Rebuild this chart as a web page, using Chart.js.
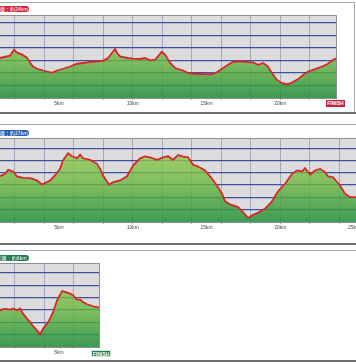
<!DOCTYPE html>
<html><head><meta charset="utf-8">
<script src="https://cdn.jsdelivr.net/npm/chart.js@4/dist/chart.umd.min.js"></script>
<style>
html,body{margin:0;padding:0;width:356px;height:364px;overflow:hidden;background:#fff;position:relative}
canvas{position:absolute}
.ln{position:absolute}
.tag{position:absolute;height:6px;border-radius:3px;color:#fff;font:5px/6px "Noto Sans CJK JP",sans-serif;white-space:nowrap;text-align:right;padding-right:2px;box-sizing:border-box}
.fin{position:absolute;color:#fff;font:bold 5px/6px "Liberation Sans",sans-serif;text-align:center;box-sizing:border-box}
</style></head>
<body>
<div class="ln" style="left:0;top:2px;width:355px;height:1px;background:#a8a8a8"></div>
<div class="ln" style="left:354px;top:2px;width:1px;height:111px;background:#a8a8a8"></div>
<div class="ln" style="left:0;top:112px;width:356px;height:2px;background:#707070"></div>
<div class="ln" style="left:0;top:124px;width:356px;height:1px;background:#a8a8a8"></div>
<div class="ln" style="left:0;top:243px;width:356px;height:2px;background:#707070"></div>
<div class="ln" style="left:0;top:250px;width:356px;height:1px;background:#a8a8a8"></div>
<div class="ln" style="left:0;top:360px;width:356px;height:2px;background:#707070"></div>

<canvas id="c1" width="337" height="95" style="left:0;top:15px"></canvas>
<canvas id="c2" width="400" height="96" style="left:0;top:138px"></canvas>
<canvas id="c3" width="100" height="96" style="left:0;top:263px"></canvas>

<div class="tag" style="left:-5px;top:6px;width:34px;background:#d6283a">距離：約24km</div>
<div class="tag" style="left:-5px;top:130px;width:34px;background:#2a62b5">距離：約27km</div>
<div class="tag" style="left:-5px;top:255px;width:34px;background:#1f7a4c">距離：約8km</div>
<div class="fin" style="left:326px;top:100px;width:19px;height:7px;background:#c8213a">FINISH</div>
<div class="fin" style="left:91px;top:350px;width:20px;height:7px;background:#1f7a4c;border:0.5px solid #cfe8d8">FINISH</div>

<script>
// Course 1 (約24km)
const route1Km   = [1.00,1.68,1.95,2.16,2.50,2.83,3.04,3.24,3.51,3.92,4.53,4.87,5.28,5.75,6.22,6.63,7.11,7.58,7.99,8.33,8.80,8.94,9.14,9.61,10.02,10.50,10.83,11.17,11.51,11.97,12.19,12.53,12.87,13.41,13.75,14.22,14.90,15.38,15.78,16.12,16.46,16.80,17.28,17.75,18.16,18.50,18.84,19.17,19.44,19.72,20.12,20.46,20.80,21.21,21.55,21.88,22.36,22.83,23.24,23.58,23.85];
const route1Elev = [32.0,33.9,38.7,36.3,34.7,32.3,28.2,25.2,23.4,22.0,20.2,22.0,23.4,25.2,27.4,28.0,28.8,29.3,29.8,32.0,39.3,36.0,33.3,32.0,31.5,31.2,32.0,30.1,30.6,36.9,34.7,28.0,24.0,22.0,19.9,19.4,19.1,19.0,21.2,24.0,26.6,28.8,29.3,28.8,28.5,26.6,28.0,25.2,19.9,15.1,11.9,11.0,12.3,15.1,18.5,21.2,23.1,25.2,27.4,30.6,32.0];
// Course 2 (約27km)
const route2Km   = [1.00,1.34,1.55,1.88,2.16,2.56,3.04,3.51,3.85,4.39,4.73,5.07,5.27,5.61,5.88,6.22,6.43,6.63,7.11,7.58,7.78,7.99,8.39,8.67,9.14,9.61,10.02,10.50,10.83,11.17,11.65,12.05,12.39,12.73,13.07,13.41,13.75,14.09,14.43,14.90,15.38,15.78,16.05,16.26,16.60,17.14,17.48,17.82,18.09,18.50,18.97,19.44,19.85,20.33,20.80,21.14,21.48,21.68,22.02,22.36,22.70,23.04,23.24,23.58,24.05,24.39,24.73,25.14];
const route2Elev = [37.2,39.2,42.4,41.1,37.0,35.9,35.6,33.8,30.5,33.8,37.8,43.2,50.0,55.9,53.4,51.8,54.8,51.8,50.5,47.3,43.2,37.8,30.3,32.4,33.8,37.2,45.9,51.8,53.4,52.6,50.5,52.6,53.4,50.5,54.4,53.2,52.6,46.5,45.1,41.9,35.1,28.3,23.0,16.8,14.3,12.1,8.1,3.2,5.4,7.6,10.9,16.8,24.9,31.1,39.2,41.9,41.1,43.7,38.4,41.9,43.2,40.5,37.0,36.4,29.7,23.0,20.2,20.2];
// Course 3 (約8km)
const route3Km   = [1.00,1.34,1.68,1.88,2.16,2.36,2.56,2.83,3.04,3.24,3.51,3.72,3.92,4.19,4.39,4.60,4.87,5.21,5.41,5.75,5.95,6.22,6.43,6.63,6.90,7.11,7.45,7.78];
const route3Elev = [29.7,31.1,30.3,31.1,29.7,31.1,27.0,23.0,20.2,16.8,13.5,10.3,14.9,18.9,23.0,28.3,37.8,45.3,44.7,43.2,41.9,38.4,38.4,36.4,34.6,33.8,32.4,31.9];

const gridKm  = [2,4,6,8,10,12,14,16,18,20,22,24,26,28];
const labelKm = [5,10,15,20,25];
const elevLines = [10,20,30,40,50,60];

const plotBg = {
  id:'plotBg',
  beforeDraw(chart){
    const a = chart.chartArea, c = chart.ctx;
    c.save(); c.fillStyle = '#dcdcdc'; c.fillRect(a.left, a.top, a.right-a.left, a.bottom-a.top); c.restore();
  },
  afterDraw(chart){
    const a = chart.chartArea, c = chart.ctx;
    c.save(); c.strokeStyle = '#8f8f8f'; c.lineWidth = 1;
    c.beginPath(); c.moveTo(a.left, a.top+0.5); c.lineTo(a.right-0.5, a.top+0.5); c.lineTo(a.right-0.5, a.bottom); c.stroke();
    c.restore();
  }
};

function makeChart(id, km, elev, kmMin, kmMax, yMax){
  const ticks = Array.from(new Set(gridKm.concat(labelKm))).filter(v => v > kmMin && v < kmMax).sort((a,b)=>a-b);
  new Chart(document.getElementById(id), {
    type:'line',
    data:{ datasets:[{
      data: km.map((x,i)=>({x, y: elev[i]})),
      borderColor:'#d8262a', borderWidth:1.8, pointRadius:0, tension:0,
      fill:'origin',
      backgroundColor:(ctx)=>{
        const a = ctx.chart.chartArea;
        if(!a) return 'rgba(100,170,70,0.8)';
        const g = ctx.chart.ctx.createLinearGradient(0, a.top, 0, a.bottom);
        g.addColorStop(0, 'rgba(165,212,80,0.8)');
        g.addColorStop(0.55, 'rgba(105,182,64,0.8)');
        g.addColorStop(1, 'rgba(30,142,56,0.84)');
        return g;
      }
    }]},
    options:{
      responsive:false, animation:false, devicePixelRatio:1,
      layout:{padding:0},
      plugins:{legend:{display:false}, tooltip:{enabled:false}},
      scales:{
        x:{
          type:'linear', min:kmMin, max:kmMax,
          afterBuildTicks:(s)=>{ s.ticks = ticks.map(v=>({value:v})); },
          afterFit:(s)=>{ s.height = 12; s.paddingLeft = 0; s.paddingRight = 0; },
          border:{display:true, color:'#8f8f8f', width:1},
          grid:{
            color:(c)=> (c.tick && c.tick.value % 2 === 0) ? '#a3a8bd' : 'rgba(0,0,0,0)',
            lineWidth:1, drawTicks:true, tickLength:2, tickColor:(c)=> (c.tick && c.tick.value % 2 === 0) ? '#a3a8bd' : 'rgba(0,0,0,0)'
          },
          ticks:{
            autoSkip:false, maxRotation:0, padding:1, color:'#444',
            font:{size:5, family:'Liberation Sans'},
            callback:(v)=> v % 5 === 0 ? v + 'km' : ''
          }
        },
        y:{
          min:0, max:yMax,
          afterBuildTicks:(s)=>{ s.ticks = elevLines.filter(v=>v<yMax).map(v=>({value:v})); },
          afterFit:(s)=>{ s.width = 0; },
          border:{display:false},
          grid:{ color:'#3e4f9e', lineWidth:1.3, drawTicks:false },
          ticks:{ display:false }
        }
      }
    },
    plugins:[plotBg]
  });
}

makeChart('c1', route1Km, route1Elev, 1.0, 1.0 + 337/14.75, 66.4);
makeChart('c2', route2Km, route2Elev, 1.0, 1.0 + 400/14.75, 68.3);
makeChart('c3', route3Km, route3Elev, 1.0, 1.0 + 100/14.75, 68.0);
</script>
</body></html>
